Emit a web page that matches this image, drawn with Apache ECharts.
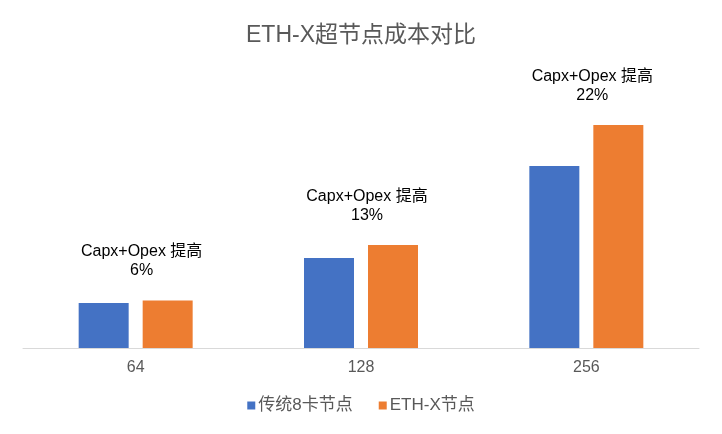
<!DOCTYPE html>
<html>
<head>
<meta charset="utf-8">
<script src="https://cdn.jsdelivr.net/npm/echarts@6/dist/echarts.min.js"></script>
<style>
  html, body { margin: 0; padding: 0; background: #fff; }
  #chart { width: 722px; height: 434px; }
</style>
</head>
<body>
<div id="chart"></div>
<script>
const categories = ['64', '128', '256']
const seriesNames = ['传统8卡节点', 'ETH-X节点']
const traditionalCost = [45, 90, 182]
const ethxCost = [47.5, 103, 223]
const gainLabels = ['Capx+Opex 提高\n6%', 'Capx+Opex 提高\n13%', 'Capx+Opex 提高\n22%']

const font = '"Liberation Sans", Arial, "Noto Sans CJK SC", sans-serif'
const chart = echarts.init(document.getElementById('chart'))

chart.setOption({
  animation: false,
  textStyle: { fontFamily: font },
  title: {
    text: 'ETH-X超节点成本对比',
    left: 'center',
    top: 19,
    textStyle: { fontSize: 23, fontWeight: 'normal', color: '#595959', fontFamily: font }
  },
  legend: {
    bottom: 15,
    left: 'center',
    itemWidth: 8,
    itemHeight: 8,
    itemGap: 26,
    icon: 'rect',
    textStyle: { fontSize: 17, color: '#595959', fontFamily: font, padding: [0, 0, 0, -2] },
    data: seriesNames
  },
  grid: { left: 23, right: 23, top: 60, bottom: 86 },
  xAxis: {
    type: 'category',
    data: categories,
    axisTick: { show: false },
    axisLine: { lineStyle: { color: '#d9d9d9', width: 1 } },
    axisLabel: { fontSize: 16, color: '#595959', margin: 12, fontFamily: font }
  },
  yAxis: {
    type: 'value',
    min: 0,
    max: 288,
    show: false,
    splitLine: { show: false }
  },
  series: [
    {
      name: seriesNames[0],
      type: 'bar',
      data: traditionalCost,
      barWidth: 50,
      barGap: '28%',
      itemStyle: { color: '#4472C4' }
    },
    {
      name: seriesNames[1],
      type: 'bar',
      data: ethxCost,
      barWidth: 50,
      itemStyle: { color: '#ED7D31' },
      label: {
        show: true,
        position: 'top',
        distance: 20,
        offset: [-26, 0],
        align: 'center',
        fontSize: 16,
        lineHeight: 19,
        color: '#000',
        fontFamily: font,
        formatter: p => gainLabels[p.dataIndex]
      }
    }
  ]
})
</script>
</body>
</html>
